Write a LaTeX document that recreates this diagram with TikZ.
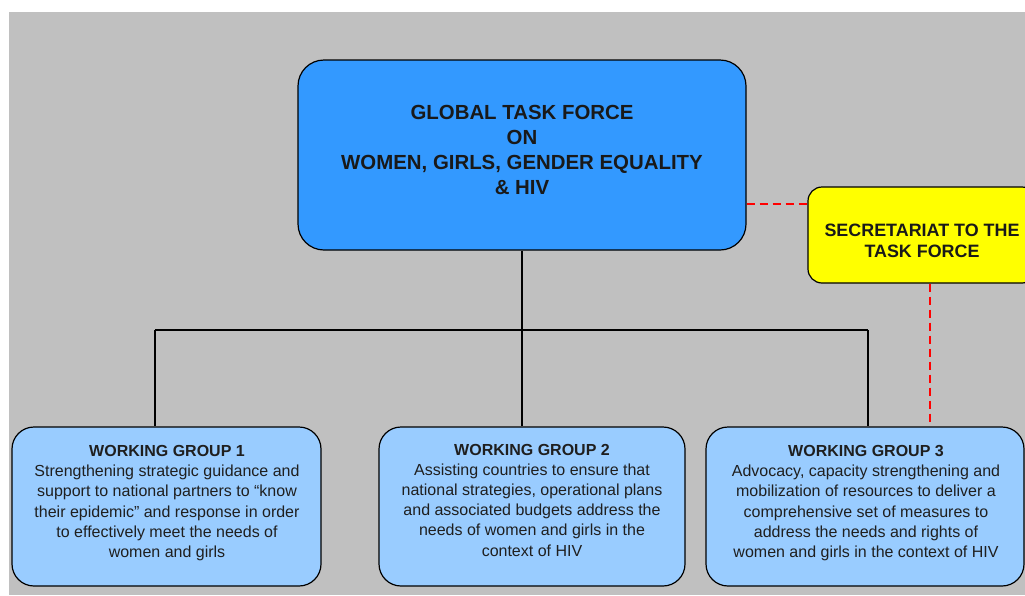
\documentclass[tikz,border=0pt]{standalone}
\usepackage{fontspec}
\setmainfont{Liberation Sans}
\usetikzlibrary{calc}
\definecolor{bggray}{HTML}{C0C0C0}
\definecolor{mainblue}{HTML}{3399FF}
\definecolor{wgblue}{HTML}{99CCFF}
\definecolor{secyellow}{HTML}{FFFF00}
\definecolor{dashred}{HTML}{FF0000}
\tikzset{
  boxshape/.style={draw=black, line width=1.2pt, rounded corners=#1, inner sep=0pt},
  conn/.style={draw=black, line width=1.5pt},
  reddash/.style={draw=dashred, line width=1.5pt, dash pattern=on 8pt off 5pt},
  wgtext/.style={align=center, text=black!88, font=\fontsize{16}{20.2}\selectfont, inner sep=0pt},
}
\begin{document}
\begin{tikzpicture}[x=1pt,y=-1pt]
\useasboundingbox (0,0) rectangle (1025,595);
\clip (0,0) rectangle (1025,595);
\fill[white] (0,0) rectangle (1025,595);
\fill[bggray] (9,12) rectangle (1025,595);

% main box
\node[boxshape=26pt, fill=mainblue, minimum width=448pt, minimum height=190pt] (gtf) at (522,155) {};
\node[align=center, inner sep=0pt, text=black!90, font=\bfseries\fontsize{20.4}{25.2}\selectfont] (gtft) at (522,150)
  {GLOBAL TASK FORCE\\ON\\WOMEN, GIRLS, GENDER EQUALITY\\\& HIV};

% secretariat
\node[boxshape=14pt, fill=secyellow, minimum width=228pt, minimum height=96pt] (sec) at (922,235) {};
\node[align=center, inner sep=0pt, text=black!90, font=\bfseries\fontsize{17.9}{21}\selectfont] (sect) at (922,241)
  {SECRETARIAT TO THE\\TASK FORCE};

% working groups
\node[boxshape=22pt, fill=wgblue, minimum width=309pt, minimum height=159pt] (wg1) at (166.5,506.5) {};
\node[boxshape=22pt, fill=wgblue, minimum width=306pt, minimum height=159pt] (wg2) at (532,506.5) {};
\node[boxshape=22pt, fill=wgblue, minimum width=318pt, minimum height=159pt] (wg3) at (865,506.5) {};

\node[wgtext] (wg1t) at (167,503)
  {\textbf{WORKING GROUP 1}\\Strengthening strategic guidance and\\support to national partners to “know\\their epidemic” and response in order\\to effectively meet the needs of\\women and girls};
\node[wgtext] (wg2t) at (532,500)
  {\textbf{WORKING GROUP 2}\\Assisting countries to ensure that\\national strategies, operational plans\\and associated budgets address the\\needs of women and girls in the\\context of HIV};
\node[wgtext] (wg3t) at (866,503)
  {\textbf{WORKING GROUP 3}\\Advocacy, capacity strengthening and\\mobilization of resources to deliver a\\comprehensive set of measures to\\address the needs and rights of\\women and girls in the context of HIV};

% connectors
\coordinate (j) at (522,330);
\coordinate (b1) at (155,330);
\coordinate (b3) at (868,330);
\draw[conn] (gtf.south) -- (j);
\draw[conn] (b1) -- (b3);
\draw[conn] (b1) -- (b1 |- wg1.north);
\draw[conn] (j) -- (j |- wg2.north);
\draw[conn] (b3) -- (b3 |- wg3.north);

% dashed links
\coordinate (s1) at (746,204);
\coordinate (s2) at (930,283);
\draw[reddash] (gtf.east |- s1) -- (sec.west |- s1);
\draw[reddash] (sec.south -| s2) -- (s2 |- wg3.north);
\end{tikzpicture}
\end{document}
